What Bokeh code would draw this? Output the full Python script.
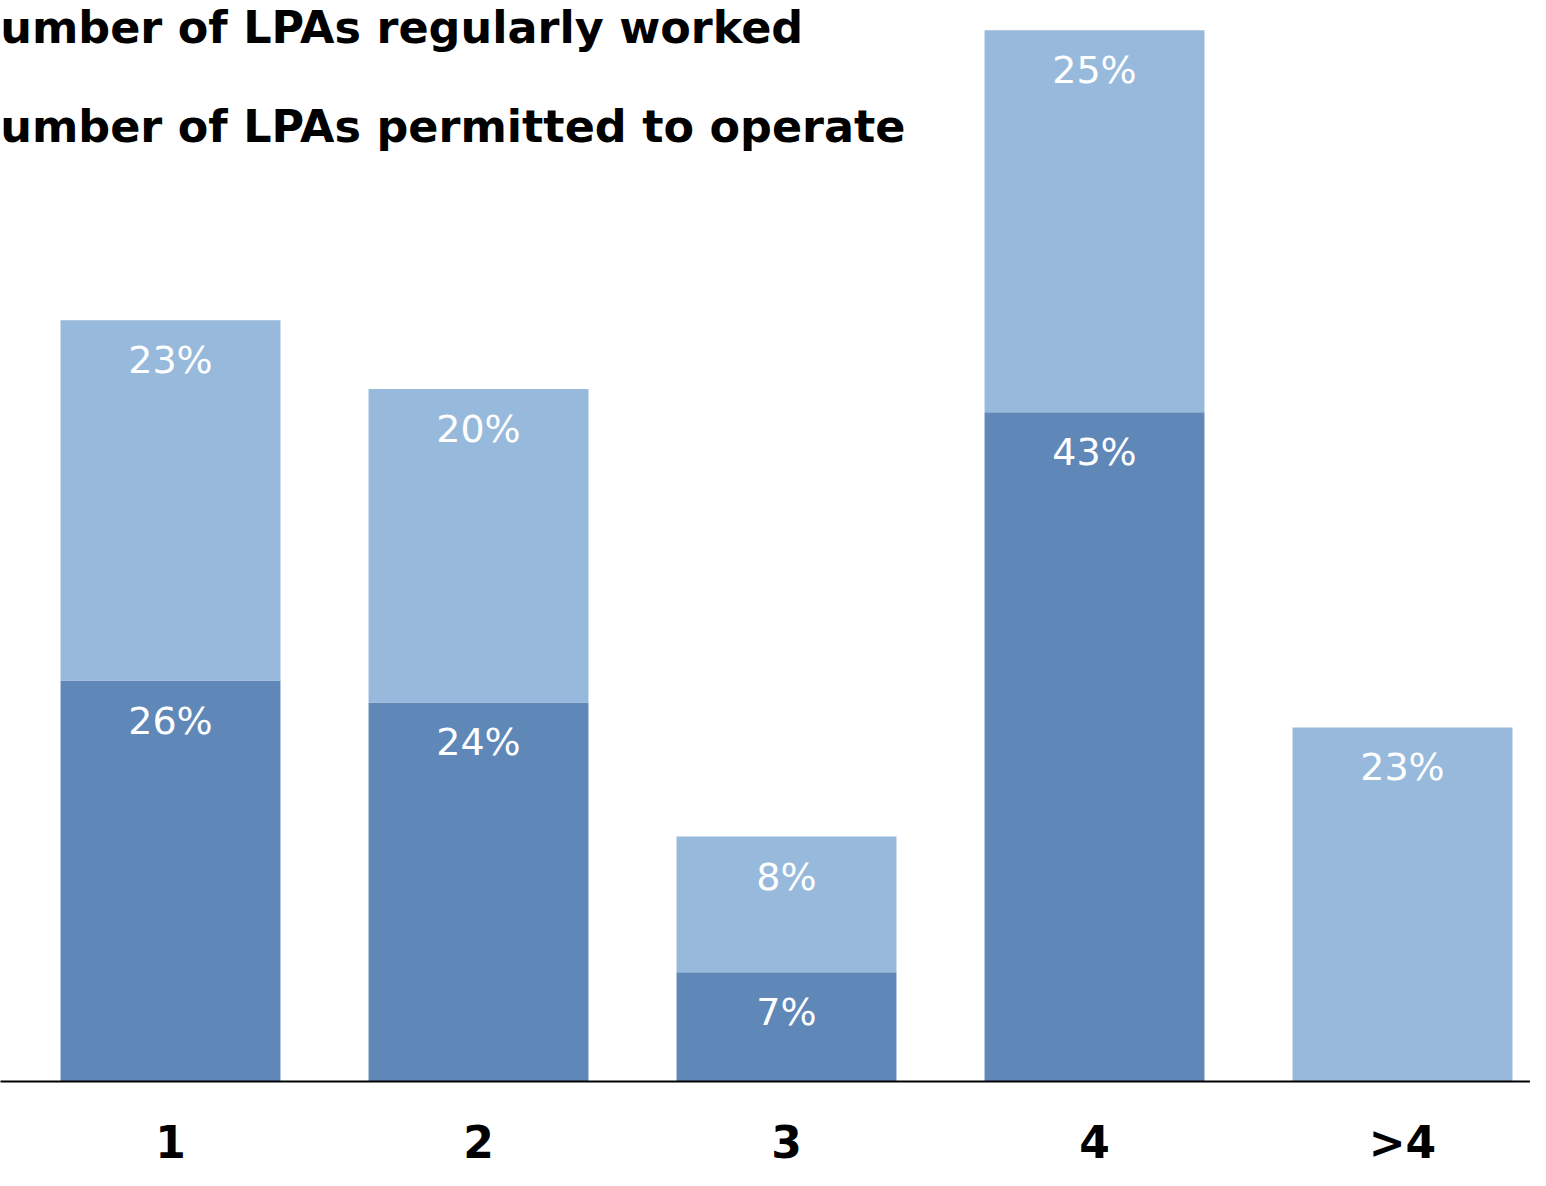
import numpy as np
from bokeh.plotting import figure
from bokeh.models import ColumnDataSource, Range1d, FixedTicker, Legend, LegendItem
from bokeh.core.properties import value
from bokeh.embed import file_html
from bokeh.resources import INLINE

# ---- data (bar heights, in %) ----
categories = ["1", "2", "3", "4", ">4"]
worked = [25.7, 24.3, 7.0, 42.9, 0.0]        # Number of LPAs regularly worked
permitted = [23.1, 20.1, 8.7, 24.5, 22.7]    # Number of LPAs permitted to operate
# value labels as printed on the chart
worked_labels = ["26%", "24%", "7%", "43%", ""]
permitted_labels = ["23%", "20%", "8%", "25%", "23%"]
series_names = ["Number of LPAs regularly worked", "Number of LPAs permitted to operate"]

DARK = "#5F87B8"
LIGHT = "#97B9DB"
FONT = "DejaVu Sans"

W, H = 1530, 1170
BAND = 308.0          # px per category
FIRST_CENTER = 170.0  # px of first category centre
x0 = 0.5 - FIRST_CENTER / BAND

x = np.arange(len(categories)) + 0.5
worked_a = np.array(worked, dtype=float)
perm_a = np.array(permitted, dtype=float)

src = ColumnDataSource(dict(x=x, worked=worked_a, permitted=perm_a))

p = figure(width=W, height=H, output_backend="svg", toolbar_location=None,
           x_range=Range1d(x0, x0 + W / BAND), y_range=Range1d(0, 69.3),
           min_border_left=0, min_border_right=0, min_border_top=0, min_border_bottom=88)
p.outline_line_color = None
p.grid.visible = False
p.yaxis.visible = False
p.background_fill_color = "white"
p.border_fill_color = "white"

rs = p.vbar_stack(["worked", "permitted"], x="x", width=0.714, color=[DARK, LIGHT],
                  line_color=None, source=src)

mask_w = np.array([bool(t) for t in worked_labels])
lab_w = ColumnDataSource(dict(x=x[mask_w], y=worked_a[mask_w],
                              t=[t for t in worked_labels if t]))
lab_p = ColumnDataSource(dict(x=x, y=worked_a + perm_a, t=permitted_labels))
for s in (lab_w, lab_p):
    p.text(x="x", y="y", text="t", source=s, text_color="white", text_align="center",
           text_baseline="middle", y_offset=40, text_font=value(FONT),
           text_font_size="38px")

ax = p.xaxis[0]
ax.ticker = FixedTicker(ticks=list(x))
ax.major_label_overrides = {float(xi): c for xi, c in zip(x, categories)}
ax.axis_line_color = "black"
ax.axis_line_width = 2
ax.major_tick_line_color = None
ax.minor_tick_line_color = None
ax.major_label_text_font = FONT
ax.major_label_text_font_size = "44px"
ax.major_label_text_font_style = "bold"
ax.major_label_text_color = "black"
ax.major_label_standoff = 29

legend = Legend(items=[LegendItem(label=series_names[0], renderers=[rs[0]]),
                       LegendItem(label=series_names[1], renderers=[rs[1]])],
                location=(-87, 927), orientation="vertical",
                label_text_font=FONT, label_text_font_size="44.5px",
                label_text_font_style="bold", label_text_color="black",
                glyph_width=40, glyph_height=56, label_height=56, spacing=43,
                label_standoff=10, padding=0, margin=0,
                background_fill_alpha=0, border_line_color=None)
p.add_layout(legend, "center")

open("out.html", "w").write(file_html(p, INLINE))
